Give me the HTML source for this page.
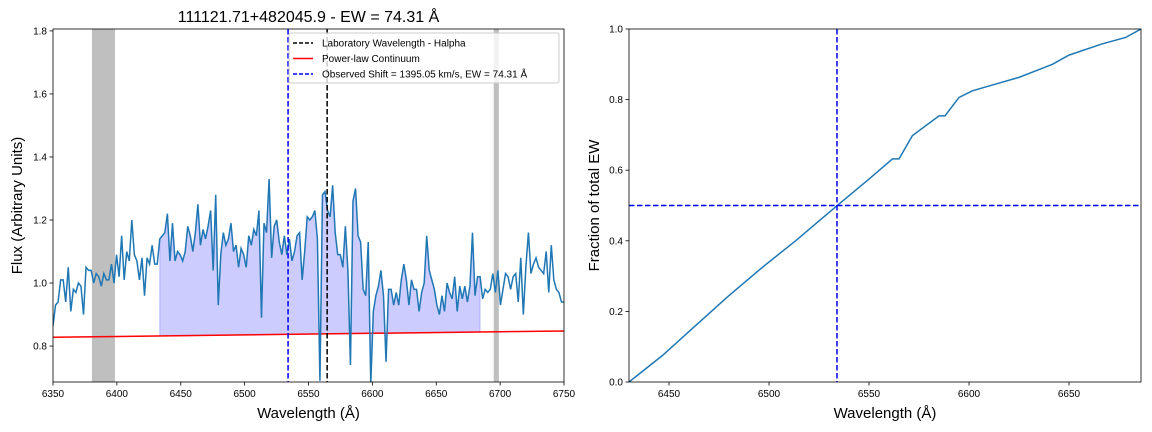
<!DOCTYPE html>
<html><head><meta charset="utf-8"><style>
body{margin:0;background:#fff;}
svg{display:block;font-family:"Liberation Sans","DejaVu Sans",sans-serif;}
</style></head><body>
<svg id="c" width="1152" height="432"></svg>
<script>
const flux1=[0.864,0.93,0.94,1.01,1.01,0.94,1.05,0.91,0.98,0.97,1.0,0.99,0.90,1.05,1.04,1.04,1.0,1.03,1.02,0.99,1.03,1.01,1.01,1.06,1.0,1.09,1.02,1.15,1.01,1.1,1.07,1.20,1.09,1.07,1.01,1.08,0.96,1.08,1.06,1.12,1.06,1.06,1.14,1.15,1.16,1.22,1.07,1.19,1.07,1.10,1.09,1.07,1.10,1.18,1.15,1.10,1.16,1.25,1.12,1.17,1.14,1.18,1.23,1.04,1.28,0.93,1.09,1.16,1.12,1.14,1.19,1.10,1.12,1.05,1.11,1.09,1.05,1.15,1.12,1.17,1.15,1.23,0.89,1.19,1.16,1.33,1.08,1.18,1.20,1.13,1.09,1.15,1.09,1.14,1.07,1.10,1.15,1.16,1.01,1.10,1.21,1.20];
const flux2=[1.21,1.23,1.14,0.69,1.28,1.29,1.23,1.21,1.31,1.16,1.09,1.09,1.05,1.18,1.04,0.74,1.26,1.30,1.15,1.13,0.98,0.96,1.13,0.68,0.91,0.96,0.99,1.04,0.96,0.75,0.98,0.98,0.93,0.97,0.93,1.01,1.06,1.01,0.93,1.01,0.98,0.98,0.91,0.97,1.0,1.15,1.04,1.01,0.98,0.93,0.90,0.96,0.91,1.0,0.97,0.95,1.02,0.91,0.99,0.95,0.99,0.94,0.99,1.16,0.96,1.02,1.02,0.95,0.98,0.97,0.98,1.03,0.97,1.04,0.93,0.98,1.03,1.02,0.98,1.02,1.03,0.94,1.08,0.90,1.05,1.16,1.03,1.06,1.08,1.05,1.04,1.03,1.10,0.97,1.12,1.01,0.98,0.97,0.94,0.94];
const flux=flux1.concat(flux2);
const wlStart=6350, wlEnd=6750;
const contStart=0.828, contEnd=0.848;
const fillRange=[6432,6686];
const grayBands=[[6380.5,6398.5],[6695,6699]];
const labWave=6564.6, obsWave=6534;
const xTicks1=[6350,6400,6450,6500,6550,6600,6650,6700,6750];
const yTicks1=[0.8,1.0,1.2,1.4,1.6,1.8];
const cumWave=[6430,6446.7,6463.3,6480,6496.7,6513.3,6523.3,6535,6550,6561.7,6565,6571.7,6585,6588,6595,6601.7,6613.3,6625,6635,6641.7,6650,6666.7,6678.3,6686];
const cumFrac=[0,0.075,0.16,0.245,0.325,0.40,0.448,0.504,0.575,0.632,0.632,0.698,0.754,0.754,0.806,0.825,0.844,0.863,0.885,0.90,0.926,0.958,0.976,1.0];
const xTicks2=[6450,6500,6550,6600,6650];
const yTicks2=[0,0.2,0.4,0.6,0.8,1.0];

const NS="http://www.w3.org/2000/svg";
const svg=document.getElementById('c');
function mk(tag,attrs,parent){const el=document.createElementNS(NS,tag);for(const k in attrs)el.setAttribute(k,attrs[k]);(parent||svg).appendChild(el);return el;}
function txt(s,attrs){const el=mk('text',attrs);el.textContent=s;return el;}

const L={x0:53,x1:564,y0:29,y1:382,xmin:6350,xmax:6750,ymin:0.686,ymax:1.806};
const lx=w=>L.x0+(w-L.xmin)/(L.xmax-L.xmin)*(L.x1-L.x0);
const ly=v=>L.y1-(v-L.ymin)/(L.ymax-L.ymin)*(L.y1-L.y0);
const wl=i=>wlStart+i*(wlEnd-wlStart)/(flux.length-1);
const cont=w=>contStart+(contEnd-contStart)*(w-wlStart)/(wlEnd-wlStart);

const clipL=mk('clipPath',{id:'cl'});mk('rect',{x:L.x0,y:L.y0,width:L.x1-L.x0,height:L.y1-L.y0},clipL);
const gL=mk('g',{'clip-path':'url(#cl)'});


grayBands.forEach((b,i)=>{const r=mk('rect',{x:lx(b[0]),y:L.y0,width:lx(b[1])-lx(b[0]),height:L.y1-L.y0,fill:'#808080','fill-opacity':0.5},gL);

});
const fillTop=[],fillBot=[];
for(let i=0;i<flux.length;i++){const w=wl(i);if(w>=fillRange[0]&&w<=fillRange[1]){fillTop.push(lx(w)+','+ly(flux[i]));fillBot.unshift(lx(w)+','+ly(cont(w)));}}
const fp=mk('polygon',{points:fillTop.concat(fillBot).join(' '),fill:'#0000ff','fill-opacity':0.2,stroke:'#0000ff','stroke-opacity':0.2},gL);


const cl=mk('line',{x1:lx(wlStart),y1:ly(contStart),x2:lx(wlEnd),y2:ly(contEnd),stroke:'#ff0000','stroke-width':1.5},gL);


const sp=mk('polyline',{points:flux.map((v,i)=>lx(wl(i))+','+ly(v)).join(' '),fill:'none',stroke:'#1f77b4','stroke-width':1.5},gL);


const ol=mk('line',{x1:lx(obsWave),y1:L.y0,x2:lx(obsWave),y2:L.y1,stroke:'#0000ff','stroke-width':1.5,'stroke-dasharray':'5.5,2.5'},gL);


const hl=mk('line',{x1:lx(labWave),y1:L.y0,x2:lx(labWave),y2:L.y1,stroke:'#000','stroke-width':1.5,'stroke-dasharray':'5.5,2.5'},gL);


const fL=mk('rect',{x:L.x0,y:L.y0,width:L.x1-L.x0,height:L.y1-L.y0,fill:'none',stroke:'#000','stroke-width':0.8});


xTicks1.forEach(t=>{const x=lx(t);mk('line',{x1:x,y1:L.y1,x2:x,y2:L.y1+3.5,stroke:'#000','stroke-width':0.8});
const el=txt(t,{x:x,y:L.y1+15,'font-size':10,'text-anchor':'middle'});});
yTicks1.forEach(t=>{const y=ly(t);mk('line',{x1:L.x0,y1:y,x2:L.x0-3.5,y2:y,stroke:'#000','stroke-width':0.8});
const el=txt(t.toFixed(1),{x:L.x0-6,y:y+3.5,'font-size':10,'text-anchor':'end'});});
let lab=txt('111121.71+482045.9 - EW = 74.31 Å',{x:(L.x0+L.x1)/2,y:22,'font-size':16,'text-anchor':'middle'});

lab=txt('Wavelength (Å)',{x:(L.x0+L.x1)/2,y:418,'font-size':15,'text-anchor':'middle'});

lab=txt('Flux (Arbitrary Units)',{x:22,y:(L.y0+L.y1)/2,'font-size':15,'text-anchor':'middle',transform:'rotate(-90 22 '+(L.y0+L.y1)/2+')'});

const lg=mk('g',{});


mk('rect',{x:289,y:33,width:270,height:50,rx:2,fill:'#fff','fill-opacity':0.8,stroke:'#ccc'},lg);
[['Laboratory Wavelength - Halpha','#000','4,2'],['Power-law Continuum','#ff0000',''],['Observed Shift = 1395.05 km/s, EW = 74.31 Å','#0000ff','4,2']].forEach((it,i)=>{
const y=43+i*15.5;mk('line',{x1:293,y1:y,x2:313,y2:y,stroke:it[1],'stroke-width':1.5,'stroke-dasharray':it[2]},lg);
const t=mk('text',{x:322,y:y+3.5,'font-size':10},lg);t.textContent=it[0];
});

const R={x0:629,x1:1141,y0:29,y1:382,xmin:6430,xmax:6686,ymin:0,ymax:1};
const rx=w=>R.x0+(w-R.xmin)/(R.xmax-R.xmin)*(R.x1-R.x0);
const ry=v=>R.y1-(v-R.ymin)/(R.ymax-R.ymin)*(R.y1-R.y0);
const clipR=mk('clipPath',{id:'cr'});mk('rect',{x:R.x0,y:R.y0,width:R.x1-R.x0,height:R.y1-R.y0},clipR);
const gR=mk('g',{'clip-path':'url(#cr)'});


const cp=mk('polyline',{points:cumWave.map((w,i)=>rx(w)+','+ry(cumFrac[i])).join(' '),fill:'none',stroke:'#1f77b4','stroke-width':1.5},gR);


const hv=mk('line',{x1:R.x0,y1:ry(0.5),x2:R.x1,y2:ry(0.5),stroke:'#0000ff','stroke-width':1.5,'stroke-dasharray':'5.5,2.5'},gR);


const vv=mk('line',{x1:rx(obsWave),y1:R.y0,x2:rx(obsWave),y2:R.y1,stroke:'#0000ff','stroke-width':1.5,'stroke-dasharray':'5.5,2.5'},gR);


const fR=mk('rect',{x:R.x0,y:R.y0,width:R.x1-R.x0,height:R.y1-R.y0,fill:'none',stroke:'#000','stroke-width':0.8});


xTicks2.forEach(t=>{const x=rx(t);mk('line',{x1:x,y1:R.y1,x2:x,y2:R.y1+3.5,stroke:'#000','stroke-width':0.8});
const el=txt(t,{x:x,y:R.y1+15,'font-size':10,'text-anchor':'middle'});});
yTicks2.forEach(t=>{const y=ry(t);mk('line',{x1:R.x0,y1:y,x2:R.x0-3.5,y2:y,stroke:'#000','stroke-width':0.8});
const el=txt(t.toFixed(1),{x:R.x0-6,y:y+3.5,'font-size':10,'text-anchor':'end'});});
lab=txt('Wavelength (Å)',{x:(R.x0+R.x1)/2,y:418,'font-size':15,'text-anchor':'middle'});

lab=txt('Fraction of total EW',{x:599,y:(R.y0+R.y1)/2,'font-size':15,'text-anchor':'middle',transform:'rotate(-90 599 '+(R.y0+R.y1)/2+')'});

</script>
</body></html>
